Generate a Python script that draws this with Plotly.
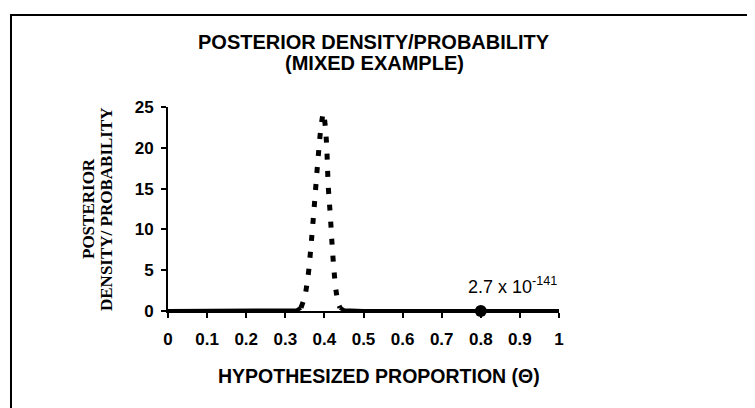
import plotly.graph_objects as go

# ---- data ----
theta = [0.0, 0.1, 0.2, 0.3, 0.33, 0.34, 0.35, 0.355, 0.36, 0.365, 0.37, 0.375,
         0.38, 0.385, 0.39, 0.395, 0.397, 0.40, 0.405, 0.41, 0.415, 0.42, 0.425,
         0.43, 0.435, 0.44, 0.45, 0.5, 0.6, 0.7, 0.8, 0.9, 1.0]
density = [0.0, 0.0, 0.0, 0.0, 0.1, 0.4, 1.8, 3.2, 5.0, 7.6, 10.4, 13.4,
           16.5, 19.4, 22.0, 23.8, 24.3, 23.6, 20.9, 15.2, 11.8, 7.9, 4.7,
           2.4, 1.0, 0.4, 0.1, 0.0, 0.0, 0.0, 0.0, 0.0, 0.0]
point_theta = [0.8]
point_prob = [0.0]
point_label = "2.7 x 10<sup>-141</sup>"

x_ticks = [0, 0.1, 0.2, 0.3, 0.4, 0.5, 0.6, 0.7, 0.8, 0.9, 1]
x_tick_text = ["0", "0.1", "0.2", "0.3", "0.4", "0.5", "0.6", "0.7", "0.8", "0.9", "1"]
y_ticks = [0, 5, 10, 15, 20, 25]

title_lines = ["POSTERIOR DENSITY/PROBABILITY", "(MIXED EXAMPLE)"]
x_title = "HYPOTHESIZED PROPORTION (\u0398)"
y_title_lines = ["POSTERIOR", "DENSITY/ PROBABILITY"]

SANS = "Liberation Sans, Arial, sans-serif"
SERIF = "Liberation Serif, Times New Roman, serif"

W, H = 755, 408
L, R, T, B = 160, 204, 99, 105
pw, ph = W - L - R, H - T - B


def px_x(px):
    return (px - L) / pw


def px_y(py):
    return (H - B - py) / ph


fig = go.Figure()

# tails drawn solid (appear as a heavy line in the scan), peak drawn dotted
left_idx = [i for i, t in enumerate(theta) if t <= 0.34]
right_idx = [i for i, t in enumerate(theta) if t >= 0.44]
peak_idx = [i for i, t in enumerate(theta) if 0.34 <= t <= 0.44]

for idx in (left_idx, right_idx):
    fig.add_trace(go.Scatter(
        x=[theta[i] for i in idx], y=[density[i] for i in idx],
        mode="lines", line=dict(color="black", width=4),
        cliponaxis=False, showlegend=False, hoverinfo="skip"))

fig.add_trace(go.Scatter(
    x=[theta[i] for i in peak_idx], y=[density[i] for i in peak_idx],
    mode="lines", line=dict(color="black", width=5, dash="6px,11px", shape="spline"),
    cliponaxis=False, showlegend=False))

fig.add_trace(go.Scatter(
    x=point_theta, y=point_prob, mode="markers",
    marker=dict(symbol="circle", size=12, color="black"),
    cliponaxis=False, showlegend=False))

fig.add_annotation(
    x=point_theta[0], y=point_prob[0], xref="x", yref="y",
    text=point_label, showarrow=False, xanchor="left", yanchor="bottom",
    xshift=-15, yshift=12, font=dict(family=SANS, size=18, color="black"))

# chart title, two lines
for text, py in zip(title_lines, [34, 55]):
    fig.add_annotation(
        x=px_x(366), y=px_y(py), xref="paper", yref="paper",
        text=text, showarrow=False, xanchor="center", yanchor="middle",
        font=dict(family=SANS, size=20, color="black", weight="bold"))

# y-axis title (two rotated lines)
for text, px in zip(y_title_lines, [80, 98]):
    fig.add_annotation(
        x=px_x(px), y=px_y(201), xref="paper", yref="paper",
        text=text, showarrow=False, textangle=-90,
        font=dict(family=SERIF, size=17, color="black", weight="bold"),
        xanchor="center", yanchor="middle")

# x-axis title
fig.add_annotation(
    x=px_x(371), y=px_y(368), xref="paper", yref="paper",
    text=x_title, showarrow=False, xanchor="center", yanchor="middle",
    font=dict(family=SANS, size=19.5, color="black", weight="bold"))

# frame around the whole chart
fig.add_shape(type="rect", xref="paper", yref="paper",
              x0=px_x(3), x1=px_x(752), y0=px_y(406), y1=px_y(7),
              line=dict(color="black", width=2))

fig.update_layout(
    width=W, height=H,
    margin=dict(l=L, r=R, t=T, b=B, autoexpand=False),
    paper_bgcolor="white", plot_bgcolor="white",
    xaxis=dict(range=[0, 1], tickvals=x_ticks, ticktext=x_tick_text,
               showgrid=False, zeroline=False, showline=True, linecolor="black",
               linewidth=2, ticks="outside", ticklen=5, tickwidth=1.5, tickcolor="black",
               ticklabelstandoff=7,
               tickfont=dict(family=SANS, size=17, color="black", weight="bold")),
    yaxis=dict(range=[0, 25], tickvals=y_ticks, showgrid=False, zeroline=False,
               showline=True, linecolor="black", linewidth=2,
               ticks="outside", ticklen=5, tickwidth=1.5, tickcolor="black",
               ticklabelstandoff=4,
               tickfont=dict(family=SANS, size=17, color="black", weight="bold")),
)

fig.write_html("out.html")
